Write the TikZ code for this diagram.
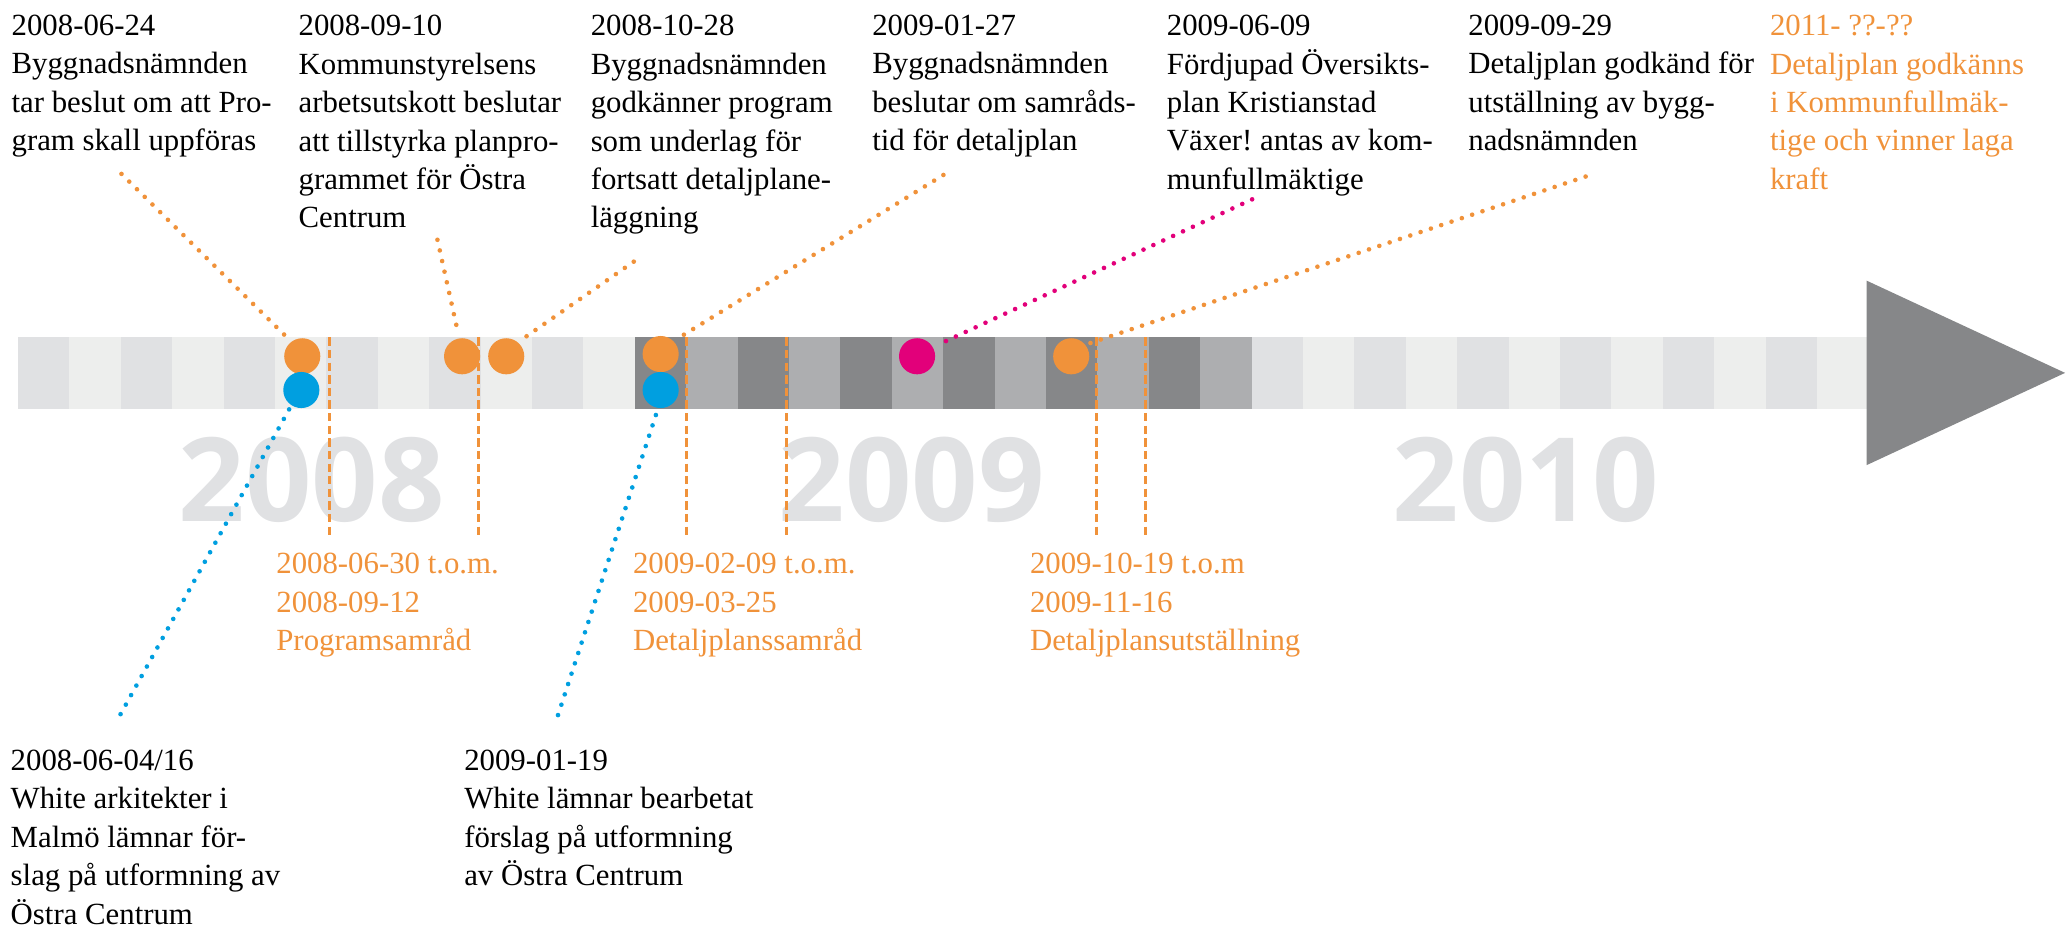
\documentclass[tikz,border=0pt]{standalone}
\usepackage{fontspec}
\setmainfont{Liberation Serif}
\newfontfamily\yearfont{Open Sans}
\usepackage{tikz}
\frenchspacing

\definecolor{tlorange}{HTML}{F0923A}
\definecolor{tlblue}{HTML}{009FE0}
\definecolor{tlpink}{HTML}{E2007A}
\definecolor{stripea}{HTML}{E0E1E3}
\definecolor{stripeb}{HTML}{EDEEED}
\definecolor{stripemid}{HTML}{ADAEB0}
\definecolor{stripedark}{HTML}{868789}
\definecolor{yeargrey}{HTML}{E0E1E3}

\begin{document}
\begin{tikzpicture}[x=0.2mm,y=-0.2mm,
    txt/.style={anchor=base west,align=left,inner sep=0pt,font=\fontsize{13.3}{16.6}\selectfont},
    year/.style={anchor=base,inner sep=0pt,text=yeargrey,font=\yearfont\bfseries\fontsize{50.3}{55}\selectfont},
    dot/.style={circle,inner sep=0pt,minimum size=5.48mm},
    leader/.style={line width=2pt,dash pattern=on 0pt off 4.7pt,line cap=round,shorten >=1.5pt},
    period/.style={tlorange,line width=1.3pt,dash pattern=on 3.6pt off 1.85pt}]

    \useasboundingbox (0,0) rectangle (1568,704);

    % months as stripes, 2009 darker
    \fill[stripeb] (13.6,255.5) rectangle (1418,310.5);
    \foreach \i in {0,2,...,34}
        \fill[stripea] ({13.6+39.01*\i},255.5) rectangle +(39.01,55);
    \fill[stripemid] ({13.6+39.01*12},255.5) rectangle ({13.6+39.01*24},310.5);
    \foreach \i in {12,14,...,22}
        \fill[stripedark] ({13.6+39.01*\i},255.5) rectangle +(39.01,55);
    \fill[stripedark] (1416.7,213) -- (1567.3,283) -- (1416.7,353) -- cycle;

    \node[year] (y8) at (236.5,396) {2008};
    \node[year] (y9) at (691.9,396) {2009};
    \node[year] (y10) at (1158,396) {2010};

    \foreach \x in {250,363.2,520.7,596.7,832.5,869.4}
        \draw[period] (\x,256) -- (\x,406);

    \node[dot,fill=tlorange] (a) at (229.4,270.4) {};
    \node[dot,fill=tlblue] (b) at (228.7,296) {};
    \node[dot,fill=tlorange] (c) at (350.7,270.4) {};
    \node[dot,fill=tlorange] (d) at (384.2,270.4) {};
    \node[dot,fill=tlorange] (e) at (501.4,268.7) {};
    \node[dot,fill=tlblue] (f) at (501.4,296) {};
    \node[dot,fill=tlpink] (g) at (696,270.4) {};
    \node[dot,fill=tlorange] (h) at (813,270.4) {};

    \coordinate (ea) at (92.2,132);
    \coordinate (eb) at (91.5,542);
    \coordinate (ec) at (332,182);
    \coordinate (ed) at (481,198.6);
    \coordinate (ee) at (716,132.8);
    \coordinate (ef) at (423.5,542.7);
    \coordinate (eg) at (950.3,151.3);
    \coordinate (eh) at (1203.4,134);

    \draw[leader,tlorange] (ea) -- (a.127);
    \draw[leader,tlblue] (eb) -- (b.237);
    \draw[leader,tlorange] (ec) -- (c.99);
    \draw[leader,tlorange] (ed) -- (d.50);
    \draw[leader,tlorange] (ee) -- (e.45);
    \draw[leader,tlblue] (ef) -- (f.262);
    \draw[leader,tlpink] (eg) -- (g.30);
    \draw[leader,tlorange] (eh) -- (h.39);

    % base of a multi-line node is its last line
    \node[txt] (ta) at (8.5,114.4) {2008-06-24\\Byggnadsnämnden\\tar beslut om att Pro-\\gram skall uppföras};
    \node[txt] (tb) at (226.3,173) {2008-09-10\\Kommunstyrelsens\\arbetsutskott beslutar\\att tillstyrka planpro-\\grammet för Östra\\Centrum};
    \node[txt] (tc) at (448,173) {2008-10-28\\Byggnadsnämnden\\godkänner program\\som underlag för\\fortsatt detaljplane-\\läggning};
    \node[txt] (td) at (661.7,114.4) {2009-01-27\\Byggnadsnämnden\\beslutar om samråds-\\tid för detaljplan};
    \node[txt] (te) at (885.3,143.7) {2009-06-09\\Fördjupad Översikts-\\plan Kristianstad\\Växer! antas av kom-\\munfullmäktige};
    \node[txt] (tf) at (1114.1,114.4) {2009-09-29\\Detaljplan godkänd för\\utställning av bygg-\\nadsnämnden};
    \node[txt,text=tlorange] (tg) at (1343,143.7) {2011- ??-??\\Detaljplan godkänns\\i Kommunfullmäk-\\tige och vinner laga\\kraft};

    \node[txt,text=tlorange] (pa) at (209.4,493.7) {2008-06-30 t.o.m.\\2008-09-12\\Programsamråd};
    \node[txt,text=tlorange] (pb) at (480.1,493.7) {2009-02-09 t.o.m.\\2009-03-25\\Detaljplanssamråd};
    \node[txt,text=tlorange] (pc) at (781.4,493.7) {2009-10-19 t.o.m\\2009-11-16\\Detaljplansutställning};

    \node[txt] (th) at (7.8,701.5) {2008-06-04/16\\White arkitekter i\\Malmö lämnar för-\\slag på utformning av\\Östra Centrum};
    \node[txt] (ti) at (352,672.2) {2009-01-19\\White lämnar bearbetat\\förslag på utformning\\av Östra Centrum};

\end{tikzpicture}
\end{document}
